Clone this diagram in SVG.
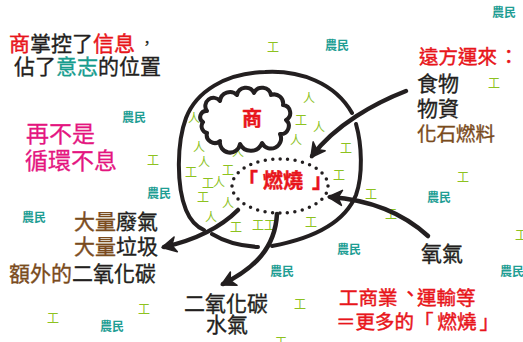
<svg xmlns="http://www.w3.org/2000/svg" width="523" height="342" viewBox="0 0 523 342">
  <defs>
    <style>
      text { font-family: "Noto Sans CJK TC", "Noto Sans CJK SC", sans-serif; }
      .big { font-size: 21px; fill: #231f20; stroke: #231f20; stroke-width: 0.35; }
      .mid { font-size: 19.5px; }
      .red { fill: #e8151b; stroke: #e8151b; stroke-width: 0.45; }
      .teal { fill: #179c8e; stroke: #179c8e; }
      .brown { fill: #7a4b1c; stroke: #7a4b1c; stroke-width: 0.35; }
      .mag { font-size: 23px; fill: #e4157f; stroke: #e4157f; stroke-width: 0.3; }
      .farm { font-size: 12px; font-weight: bold; fill: #1f9e94; }
      .work { font-size: 12px; fill: #8dc21f; }
      .ring { fill: none; stroke: #231f20; stroke-width: 4; stroke-linecap: round; stroke-linejoin: round; }
      .arrow { fill: none; stroke: #231f20; stroke-width: 4.5; stroke-linecap: round; }
      .dots { fill: none; stroke: #231f20; stroke-width: 3.5; stroke-linecap: round; stroke-dasharray: 0 7.5; }
    </style>
    <marker id="head" viewBox="-14 -9 17 18" refX="0" refY="0" markerWidth="17" markerHeight="18" markerUnits="userSpaceOnUse" orient="auto">
      <path d="M2,0 L-12,-7.5 L-8,0 L-12,7.5 Z" fill="#231f20" stroke="#231f20" stroke-width="1.5" stroke-linejoin="round"/>
    </marker>
  </defs>

  <rect width="523" height="342" fill="#ffffff"/>

  <!-- scattered villagers and workers -->
  <g id="farmers">
    <text class="farm" x="492" y="17">農民</text>
    <text class="farm" x="325" y="50">農民</text>
    <text class="farm" x="122" y="122">農民</text>
    <text class="farm" x="147" y="198">農民</text>
    <text class="farm" x="22" y="222">農民</text>
    <text class="farm" x="100" y="331">農民</text>
    <text class="farm" x="337" y="254">農民</text>
    <text class="farm" x="270" y="276">農民</text>
    <text class="farm" x="500" y="276">農民</text>
    <text class="farm" x="427" y="202">農民</text>
  </g>
  <g id="workers">
    <text class="work" x="488" y="88">工</text>
    <text class="work" x="267" y="52">工</text>
    <text class="work" x="147" y="165">工</text>
    <text class="work" x="47" y="323">工</text>
    <text class="work" x="138" y="314">工</text>
    <text class="work" x="294" y="309">工</text>
    <text class="work" x="275" y="347">工</text>
    <text class="work" x="515" y="240">工</text>
    <text class="work" x="457" y="182">工</text>
    <text class="work" x="365" y="199">工</text>
    <text class="work" x="385" y="219">工</text>
    <text class="work" x="295" y="125">工</text>
    <text class="work" x="340" y="153">工</text>
    <text class="work" x="185" y="177">工</text>
    <text class="work" x="222" y="175">工</text>
    <text class="work" x="333" y="180">工</text>
    <text class="work" x="202" y="188">工</text>
    <text class="work" x="197" y="202">工</text>
    <text class="work" x="230" y="232">工</text>
    <text class="work" x="252" y="230">工</text>
    <text class="work" x="264" y="230">工</text>
    <text class="work" x="305" y="227">工</text>
  </g>
  <g id="people">
    <text class="work" x="303" y="103">人</text>
    <text class="work" x="188" y="123">人</text>
    <text class="work" x="313" y="132">人</text>
    <text class="work" x="290" y="145">人</text>
    <text class="work" x="193" y="152">人</text>
    <text class="work" x="232" y="157">人</text>
    <text class="work" x="198" y="167">人</text>
    <text class="work" x="213" y="187">人</text>
    <text class="work" x="222" y="208">人</text>
    <text class="work" x="205" y="222">人</text>
  </g>

  <!-- the city: hand-drawn outer ring -->
  <g id="city">
    <path class="ring" d="M352,113 C335,83 300,70 265,72 C225,73 196,92 186,118 C177,142 176,185 186,210 C191,222 197,227 204,230"/>
    <path class="ring" d="M356,124 C362,145 363,175 356,195 C345,222 315,238 272,246"/>
    <path class="ring" d="M212,234 C225,242 240,246 258,247"/>
  </g>

  <!-- merchants cloud -->
  <g id="merchant">
    <path class="ring" d="M207,111 A8,8 0 0 1 220,101 A10,10 0 0 1 237,95 A9,9 0 0 1 254,93 A9,9 0 0 1 271,95 A9,9 0 0 1 283,105 A8,8 0 0 1 286,120 A8,8 0 0 1 280,134 A10,10 0 0 1 262,143 A12,12 0 0 1 240,144 A10,10 0 0 1 220,141 A8,8 0 0 1 207,133 A7,7 0 0 1 203,122 A6,6 0 0 1 207,111 Z" fill="#ffffff"/>
    <text class="red" x="242" y="125.5" font-size="20" font-weight="bold">商</text>
  </g>

  <!-- burning core -->
  <g id="burning">
    <ellipse class="dots" cx="280" cy="186" rx="48" ry="27"/>
    <text class="red" x="238" y="187.5" font-size="20" font-weight="bold">「<tspan dx="5">燃燒</tspan><tspan dx="9">」</tspan></text>
  </g>

  <!-- flows in and out -->
  <g id="connectors">
    <path class="arrow" d="M406,91 C375,103 335,125 312,156" marker-end="url(#head)"/>
    <path class="arrow" d="M428,236 C405,215 372,200 330,197" marker-end="url(#head)"/>
    <path class="arrow" d="M238,210 C220,228 195,240 164,247" marker-end="url(#head)"/>
    <path class="arrow" d="M277,214 C275,248 255,268 223,284" marker-end="url(#head)"/>
  </g>

  <!-- captions -->
  <g id="info">
    <text class="big" x="9" y="50.5"><tspan class="red">商</tspan>掌控了<tspan class="red">信息</tspan><tspan dx="5" dy="-3" font-size="14">，</tspan></text>
    <text class="big" x="14" y="73.5">佔了<tspan class="teal">意志</tspan>的位置</text>
  </g>
  <g id="cycle">
    <text class="mag" x="26" y="141.5">再不是</text>
    <text class="mag" x="25" y="168.5">循環不息</text>
  </g>
  <g id="supply">
    <text class="red mid" x="419" y="63.5">遠方運來<tspan dx="2">：</tspan></text>
    <text class="big" x="417" y="90.5">食物</text>
    <text class="big" x="417" y="115.5">物資</text>
    <text class="brown mid" x="417" y="140.5">化石燃料</text>
  </g>
  <g id="waste">
    <text class="big" x="74" y="228.5"><tspan class="brown">大量</tspan>廢氣</text>
    <text class="big" x="74" y="253.5"><tspan class="brown">大量</tspan>垃圾</text>
    <text class="big" x="9" y="280.5"><tspan class="brown">額外的</tspan>二氧化碳</text>
  </g>
  <g id="oxygen">
    <text class="big" x="421" y="260.5">氧氣</text>
  </g>
  <g id="exhaust">
    <text class="big" x="184" y="310.5">二氧化碳</text>
    <text class="big" x="206" y="331.5">水氣</text>
  </g>
  <g id="industry">
    <text class="red mid" x="339" y="304.5">工商業<tspan dx="3" dy="-4">、</tspan><tspan dx="-3" dy="4">運輸等</tspan></text>
    <text class="red mid" x="336" y="328.5">＝更多的「<tspan dx="4">燃燒</tspan><tspan dx="3">」</tspan></text>
  </g>
</svg>
